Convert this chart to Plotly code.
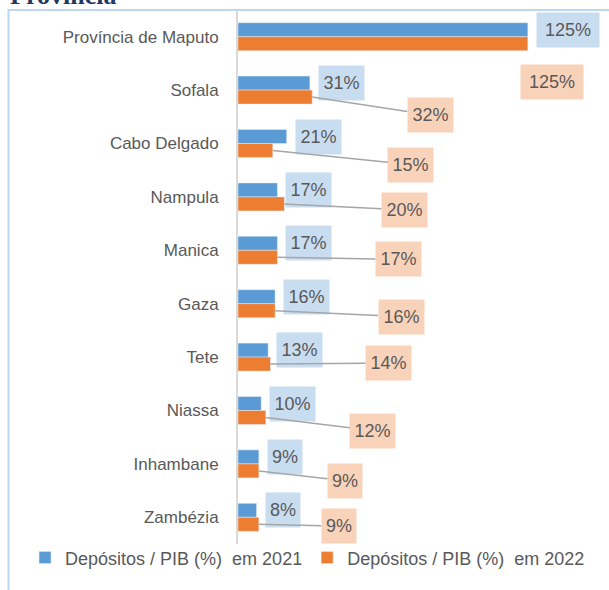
import plotly.graph_objects as go

provinces = ["Província de Maputo", "Sofala", "Cabo Delgado", "Nampula", "Manica",
             "Gaza", "Tete", "Niassa", "Inhambane", "Zambézia"]
dep_2021 = [125, 31, 21, 17, 17, 16, 13, 10, 9, 8]
dep_2022 = [125, 32, 15, 20, 17, 16, 14, 12, 9, 9]
labels_2021 = ["125%", "31%", "21%", "17%", "17%", "16%", "13%", "10%", "9%", "8%"]
labels_2022 = ["125%", "32%", "15%", "20%", "17%", "16%", "14%", "12%", "9%", "9%"]

# pixel offsets of the 2022 label boxes from the end of their bar (placed by hand in the original)
offsets_2022 = [(24, 38), (118, 18), (138, 14), (120, 6), (121, 2),
                (126, 6), (118, -1), (107, 13), (86, 10), (80, 2)]

BLUE = "#5b9bd5"
ORANGE = "#ed7d31"
GREY_TXT = "#595959"
FONT = "Liberation Sans"

fig = go.Figure()
fig.add_trace(go.Bar(x=dep_2021, y=provinces, orientation="h", marker_color=BLUE,
                     name="Depósitos / PIB (%)  em 2021"))
fig.add_trace(go.Bar(x=dep_2022, y=provinces, orientation="h", marker_color=ORANGE,
                     name="Depósitos / PIB (%)  em 2022"))


def box_width(txt):
    return 12 + 11 * len(txt) if len(txt) < 4 else 62


annotations = []
for p, v, t in zip(provinces, dep_2021, labels_2021):
    annotations.append(dict(
        x=v, y=p, xref="x", yref="y", text=t, showarrow=False,
        xanchor="left", yanchor="middle", xshift=8, yshift=7,
        width=box_width(t), height=34, borderpad=0,
        bgcolor="#c9ddf1", font=dict(family=FONT, size=18, color=GREY_TXT)))

for p, v, t, (dx, dy) in zip(provinces, dep_2022, labels_2022, offsets_2022):
    annotations.append(dict(
        x=v, y=p, xref="x", yref="y", text=t, showarrow=True,
        arrowhead=0, arrowwidth=1.5, arrowcolor="#a6a6a6", standoff=0,
        ax=dx, ay=dy, yshift=-7,
        width=box_width(t), height=34, borderpad=0,
        bgcolor="#f9d3b9", font=dict(family=FONT, size=18, color=GREY_TXT)))

# chart title, mostly cut off at the top of the picture
annotations.append(dict(
    x=-0.62, y=1.0, xref="paper", yref="paper", text="<b>Província</b>",
    showarrow=False, xanchor="left", yanchor="bottom", yshift=-2,
    font=dict(family="Liberation Serif", size=26, color="#1f3864")))

fig.update_layout(
    width=609, height=590,
    margin=dict(l=238, r=0, t=10, b=46, autoexpand=False),
    paper_bgcolor="white", plot_bgcolor="white",
    barmode="group", bargap=0.476, bargroupgap=0,
    xaxis=dict(range=[0, 160], visible=False),
    yaxis=dict(type="category", categoryorder="array", categoryarray=provinces,
               range=[len(provinces) - 0.5, -0.5], showline=True,
               linecolor="#d9d9d9", linewidth=2, ticks="", showgrid=False,
               ticklabelstandoff=14,
               tickfont=dict(family=FONT, size=17, color=GREY_TXT)),
    legend=dict(orientation="h", x=-0.574, y=-0.026, xanchor="left", yanchor="middle",
                font=dict(family=FONT, size=18, color=GREY_TXT),
                itemwidth=30, bgcolor="rgba(0,0,0,0)"),
    annotations=annotations,
    shapes=[dict(type="rect", xref="paper", yref="paper",
                 x0=-0.6186, x1=1.5, y0=-0.2, y1=1.0,
                 line=dict(color="#bdd7ee", width=2), layer="below")],
)

fig.write_html("out.html", config={"displayModeBar": False},
               post_script="document.body.style.margin='0';")
